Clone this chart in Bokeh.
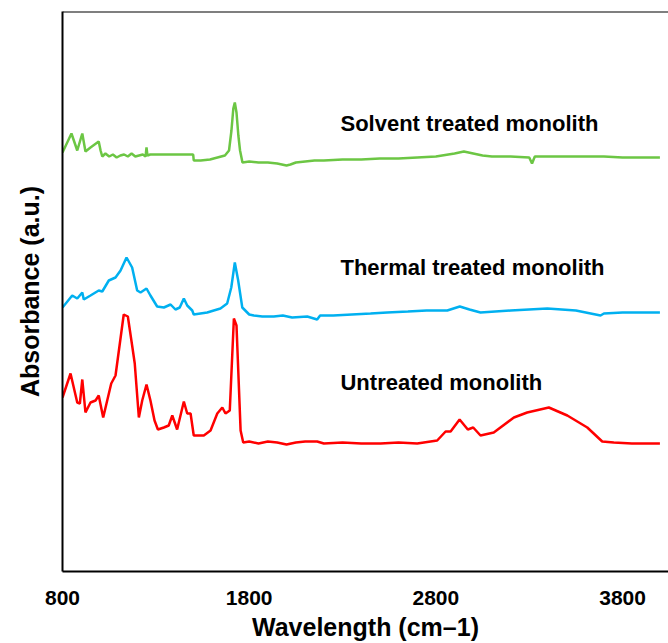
from bokeh.plotting import figure
from bokeh.models import Range1d, FixedTicker, Span, Label
from bokeh.embed import file_html
from bokeh.resources import INLINE

# ---- data (wavenumber, absorbance in arbitrary offset units) ----
x_ticks = [800, 1800, 2800, 3800]

solvent_wn = [800, 848, 879, 906, 923, 950, 994, 1004, 1013, 1030, 1050, 1070, 1090, 1110, 1130,
              1150, 1170, 1190, 1210, 1230, 1245, 1250, 1255, 1270, 1300, 1350, 1400, 1450, 1500,
              1503, 1540, 1590, 1630, 1670, 1692, 1705, 1715, 1723, 1732, 1742, 1751, 1764, 1800,
              1850, 1900, 1950, 2000, 2021, 2050, 2100, 2150, 2200, 2300, 2400, 2500, 2600, 2700,
              2800, 2900, 2950, 3000, 3050, 3100, 3200, 3300, 3315, 3330, 3400, 3500, 3600, 3700,
              3800, 3900, 4000]
solvent_abs = [4.19, 4.38, 4.21, 4.38, 4.20, 4.24, 4.30, 4.21, 4.15, 4.18, 4.15, 4.17, 4.14, 4.16,
               4.17, 4.15, 4.18, 4.15, 4.16, 4.17, 4.15, 4.24, 4.16, 4.17, 4.17, 4.17, 4.17, 4.17,
               4.17, 4.11, 4.11, 4.12, 4.14, 4.16, 4.21, 4.41, 4.63, 4.69, 4.59, 4.36, 4.21, 4.09,
               4.10, 4.09, 4.09, 4.08, 4.06, 4.07, 4.09, 4.10, 4.11, 4.11, 4.12, 4.12, 4.13, 4.13,
               4.14, 4.15, 4.18, 4.20, 4.18, 4.16, 4.15, 4.15, 4.14, 4.08, 4.15, 4.15, 4.15, 4.15,
               4.15, 4.14, 4.14, 4.14]

thermal_wn = [800, 852, 879, 906, 914, 950, 994, 1013, 1048, 1084, 1111, 1143, 1173, 1200, 1218,
              1250, 1271, 1307, 1343, 1379, 1405, 1428, 1450, 1468, 1495, 1503, 1575, 1646, 1682,
              1704, 1723, 1741, 1763, 1800, 1825, 1870, 1932, 1980, 2030, 2111, 2164, 2180, 2250,
              2350, 2450, 2539, 2650, 2750, 2861, 2928, 2980, 3039, 3200, 3397, 3550, 3682, 3700,
              3800, 3896, 4000]
thermal_abs = [2.64, 2.76, 2.73, 2.79, 2.72, 2.76, 2.81, 2.80, 2.91, 2.94, 3.01, 3.14, 3.04, 2.81,
               2.79, 2.83, 2.76, 2.65, 2.64, 2.67, 2.62, 2.64, 2.73, 2.66, 2.61, 2.57, 2.59, 2.63,
               2.68, 2.84, 3.09, 2.91, 2.64, 2.57, 2.56, 2.55, 2.55, 2.56, 2.54, 2.55, 2.52, 2.56,
               2.56, 2.57, 2.58, 2.59, 2.60, 2.61, 2.61, 2.65, 2.62, 2.59, 2.61, 2.63, 2.61, 2.56,
               2.58, 2.59, 2.59, 2.59]

untreated_wn = [800, 843, 879, 893, 906, 923, 950, 977, 994, 1018, 1061, 1084, 1128, 1150, 1173,
                1187, 1209, 1227, 1250, 1271, 1293, 1311, 1343, 1369, 1388, 1414, 1450, 1468, 1486,
                1503, 1557, 1593, 1629, 1656, 1673, 1696, 1718, 1732, 1754, 1768, 1800, 1850, 1900,
                1950, 2000, 2050, 2100, 2164, 2200, 2300, 2400, 2504, 2600, 2700, 2807, 2852, 2879,
                2927, 2971, 3000, 3039, 3110, 3218, 3289, 3405, 3504, 3611, 3691, 3753, 3850, 4000]
untreated_abs = [1.74, 1.98, 1.69, 1.68, 1.92, 1.59, 1.69, 1.71, 1.76, 1.54, 1.88, 1.96, 2.57, 2.55,
                 2.26, 2.08, 1.54, 1.71, 1.87, 1.71, 1.51, 1.42, 1.44, 1.46, 1.56, 1.42, 1.70, 1.58,
                 1.58, 1.36, 1.36, 1.41, 1.58, 1.64, 1.58, 1.61, 2.53, 2.46, 1.41, 1.29, 1.30, 1.28,
                 1.30, 1.29, 1.27, 1.29, 1.30, 1.30, 1.28, 1.29, 1.28, 1.28, 1.29, 1.28, 1.31, 1.40,
                 1.40, 1.52, 1.42, 1.44, 1.36, 1.39, 1.54, 1.59, 1.64, 1.56, 1.44, 1.30, 1.29, 1.28,
                 1.28]

series_names = ["Solvent treated monolith", "Thermal treated monolith", "Untreated monolith"]
series_colors = ["#6cc644", "#00b0f0", "#ff0000"]
label_x = 2289
label_y = [4.48, 3.04, 1.89]

FONT = "Liberation Sans"

p = figure(width=668, height=643, output_backend="svg", toolbar_location=None,
           x_range=Range1d(800, 4046), y_range=Range1d(0, 5.60),
           min_border_left=62, min_border_right=0, min_border_top=11, min_border_bottom=72)
p.outline_line_color = None
p.grid.grid_line_color = None
p.background_fill_color = "white"
p.border_fill_color = "white"

for wn, ab, col in zip([solvent_wn, thermal_wn, untreated_wn],
                       [solvent_abs, thermal_abs, untreated_abs], series_colors):
    p.line(wn, ab, line_color=col, line_width=2.5)

# x axis
xa = p.xaxis[0]
xa.ticker = FixedTicker(ticks=x_ticks)
xa.major_tick_line_color = None
xa.minor_tick_line_color = None
xa.axis_line_color = "black"
xa.axis_line_width = 2
xa.major_label_text_font = FONT
xa.major_label_text_font_style = "bold"
xa.major_label_text_font_size = "21px"
xa.major_label_text_color = "black"
xa.major_label_standoff = 13
xa.axis_label = "Wavelength (cm\u20131)"
xa.axis_label_text_font = FONT
xa.axis_label_text_font_style = "bold"
xa.axis_label_text_font_size = "25px"
xa.axis_label_text_color = "black"
xa.axis_label_standoff = 5

# y axis
ya = p.yaxis[0]
ya.ticker = FixedTicker(ticks=[])
ya.major_tick_line_color = None
ya.minor_tick_line_color = None
ya.axis_line_color = "black"
ya.axis_line_width = 2
ya.axis_label = "Absorbance (a.u.)"
ya.axis_label_text_font = FONT
ya.axis_label_text_font_style = "bold"
ya.axis_label_text_font_size = "25px"
ya.axis_label_text_color = "black"
ya.axis_label_standoff = 19

# top frame line
p.add_layout(Span(location=5.60, dimension="width", line_color="black", line_width=2))

for name, ly in zip(series_names, label_y):
    p.add_layout(Label(x=label_x, y=ly, text=name, text_font=FONT, text_font_style="bold",
                       text_font_size="22px", text_color="black", text_baseline="alphabetic"))

open("out.html", "w").write(file_html(p, INLINE))
